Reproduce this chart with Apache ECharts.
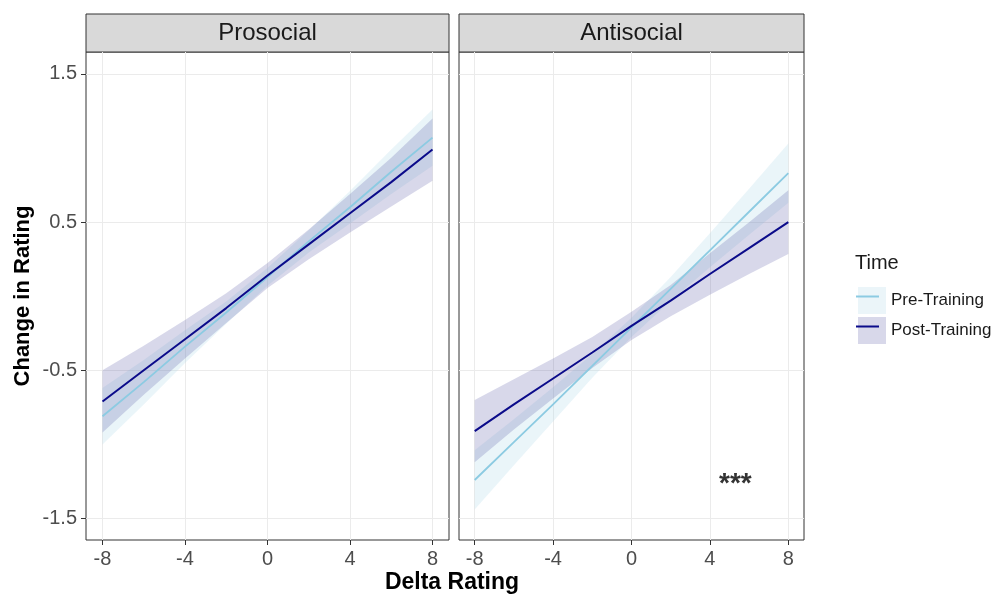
<!DOCTYPE html>
<html>
<head>
<meta charset="utf-8">
<script src="https://cdn.jsdelivr.net/npm/echarts@6/dist/echarts.min.js"></script>
<style>
  html, body { margin: 0; padding: 0; background: #fff; }
  #chart { width: 999px; height: 595px; }
</style>
</head>
<body>
<div id="chart"></div>
<script>
// x positions where the fitted lines and CI bands were read
const xs = [-8, -6, -4, -2, 0, 2, 4, 6, 8];

// Prosocial
const proPreFit  = [-0.81, -0.58, -0.34, -0.11, 0.13, 0.37, 0.60, 0.84, 1.07];
const proPreLo   = [-1.00, -0.73, -0.45, -0.185, 0.07, 0.295, 0.49, 0.69, 0.88];
const proPreHi   = [-0.62, -0.43, -0.23, -0.035, 0.19, 0.445, 0.71, 0.99, 1.26];
const proPostFit = [-0.71, -0.50, -0.29, -0.08, 0.14, 0.35, 0.56, 0.77, 0.99];
const proPostLo  = [-0.92, -0.665, -0.42, -0.18, 0.055, 0.25, 0.43, 0.605, 0.78];
const proPostHi  = [-0.50, -0.335, -0.16, 0.02, 0.225, 0.45, 0.69, 0.935, 1.20];

// Antisocial
const antiPreFit  = [-1.24, -0.985, -0.73, -0.47, -0.21, 0.05, 0.31, 0.57, 0.83];
const antiPreLo   = [-1.44, -1.14, -0.845, -0.55, -0.275, -0.03, 0.195, 0.415, 0.63];
const antiPreHi   = [-1.04, -0.83, -0.615, -0.39, -0.145, 0.13, 0.425, 0.725, 1.03];
const antiPostFit = [-0.91, -0.73, -0.555, -0.38, -0.20, -0.03, 0.15, 0.325, 0.50];
const antiPostLo  = [-1.12, -0.90, -0.69, -0.485, -0.295, -0.135, 0.01, 0.15, 0.285];
const antiPostHi  = [-0.70, -0.56, -0.42, -0.275, -0.105, 0.075, 0.29, 0.50, 0.715];

const panels = ['Prosocial', 'Antisocial'];
const groups = ['Pre-Training', 'Post-Training'];
const xTicks = [-8, -4, 0, 4, 8];
const yTicks = [-1.5, -0.5, 0.5, 1.5];
const starPos = [5.3, -1.27];

const FONT = '"Liberation Sans", Arial, sans-serif';
const preLine = '#8ccbe2';
const postLine = '#0b0b8a';
const preFill = 'rgba(173,216,230,0.25)';
const postFill = 'rgba(60,60,150,0.2)';

const chart = echarts.init(document.getElementById('chart'));

function band(name, idx, lo, hi, color) {
  return {
    type: 'custom',
    name: name,
    xAxisIndex: idx,
    yAxisIndex: idx,
    silent: true,
    data: xs.map((x, i) => [x, lo[i], hi[i]]),
    encode: { x: 0, y: [1, 2] },
    renderItem: function (params, api) {
      if (params.dataIndex !== 0) return null;
      const pts = [];
      for (let i = 0; i < xs.length; i++) pts.push(api.coord([xs[i], hi[i]]));
      for (let i = xs.length - 1; i >= 0; i--) pts.push(api.coord([xs[i], lo[i]]));
      return { type: 'polygon', shape: { points: pts }, style: { fill: color } };
    }
  };
}

function fitLine(name, idx, fit, color, width) {
  return {
    type: 'line',
    name: name,
    xAxisIndex: idx,
    yAxisIndex: idx,
    data: xs.map((x, i) => [x, fit[i]]),
    showSymbol: false,
    silent: true,
    color: color,
    lineStyle: { color: color, width: width }
  };
}

function xAxis(idx) {
  return {
    type: 'value', gridIndex: idx, min: -8.8, max: 8.8, position: 'bottom',
    axisLine: { show: false, onZero: false },
    axisTick: { show: true, customValues: xTicks, length: 5, lineStyle: { color: '#333', width: 1 } },
    axisLabel: { customValues: xTicks, fontSize: 20, color: '#4d4d4d', fontFamily: FONT, margin: 9 },
    splitLine: { show: true, lineStyle: { color: '#ebebeb', width: 1 } }
  };
}

function yAxis(idx) {
  const first = idx === 0;
  return {
    type: 'value', gridIndex: idx, min: -1.645, max: 1.648, position: 'left',
    axisLine: { show: false, onZero: false },
    axisTick: { show: first, customValues: yTicks, length: 5, lineStyle: { color: '#333', width: 1 } },
    axisLabel: { show: first, customValues: yTicks, fontSize: 20, color: '#4d4d4d', fontFamily: FONT, margin: 9 },
    splitLine: { show: true, lineStyle: { color: '#ebebeb', width: 1 } },
    name: first ? 'Change in Rating' : '',
    nameLocation: 'middle',
    nameGap: 52,
    nameTextStyle: { fontSize: 22, fontWeight: 'bold', color: '#000', fontFamily: FONT }
  };
}

const grids = [
  { left: 86, top: 52, width: 363, height: 488 },
  { left: 459, top: 52, width: 345, height: 488 }
];

const graphic = [];
grids.forEach((g, i) => {
  graphic.push({
    type: 'rect', shape: { x: g.left, y: 14, width: g.width, height: 38 },
    style: { fill: '#d9d9d9', stroke: '#333', lineWidth: 1 }
  });
  graphic.push({
    type: 'text', x: g.left + g.width / 2, y: 33,
    style: { text: panels[i], fontSize: 24, fontFamily: FONT, fill: '#1a1a1a', textAlign: 'center', textVerticalAlign: 'middle' }
  });
});
graphic.push({
  type: 'text', x: 452, y: 583,
  style: { text: 'Delta Rating', fontSize: 23, fontWeight: 'bold', fontFamily: FONT, fill: '#000', textAlign: 'center', textVerticalAlign: 'middle' }
});
// line part of the legend keys
graphic.push({ type: 'line', z: 10, shape: { x1: 856, y1: 296.5, x2: 879, y2: 296.5 }, style: { stroke: preLine, lineWidth: 2 } });
graphic.push({ type: 'line', z: 10, shape: { x1: 856, y1: 326.5, x2: 879, y2: 326.5 }, style: { stroke: postLine, lineWidth: 2 } });

const option = {
  animation: false,
  backgroundColor: '#fff',
  title: {
    text: 'Time', left: 850, top: 248,
    textStyle: { fontSize: 20, fontWeight: 'normal', color: '#1a1a1a', fontFamily: FONT }
  },
  legend: {
    orient: 'vertical', left: 853, top: 282,
    itemWidth: 28, itemHeight: 27, itemGap: 3, itemTextGap: 13,
    icon: 'rect', selectedMode: false,
    textStyle: { fontSize: 17, color: '#1a1a1a', fontFamily: FONT },
    data: [
      { name: groups[0], itemStyle: { color: '#ebf5f9' } },
      { name: groups[1], itemStyle: { color: '#d8d8ea' } }
    ]
  },
  grid: grids.map(g => Object.assign({ show: true, borderColor: '#333', borderWidth: 1, backgroundColor: 'transparent' }, g)),
  xAxis: [xAxis(0), xAxis(1)],
  yAxis: [yAxis(0), yAxis(1)],
  graphic: graphic,
  series: [
    band('Pre band', 0, proPreLo, proPreHi, preFill),
    fitLine(groups[0], 0, proPreFit, preLine, 1.8),
    band('Post band', 0, proPostLo, proPostHi, postFill),
    fitLine(groups[1], 0, proPostFit, postLine, 2),
    band('Pre band', 1, antiPreLo, antiPreHi, preFill),
    fitLine(groups[0], 1, antiPreFit, preLine, 1.8),
    band('Post band', 1, antiPostLo, antiPostHi, postFill),
    fitLine(groups[1], 1, antiPostFit, postLine, 2),
    {
      type: 'scatter', xAxisIndex: 1, yAxisIndex: 1, silent: true,
      data: [starPos], symbolSize: 1, itemStyle: { color: 'transparent' },
      label: { show: true, formatter: '***', position: 'inside', fontSize: 28, fontWeight: 'bold', color: '#000', fontFamily: FONT }
    }
  ]
};

chart.setOption(option);
</script>
</body>
</html>
